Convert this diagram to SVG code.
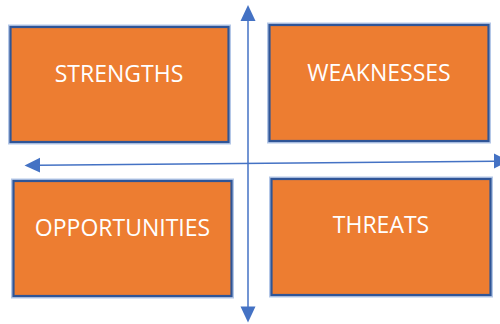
<svg xmlns="http://www.w3.org/2000/svg" width="500" height="324" viewBox="0 0 500 324">
<style>
.box{fill:#ED7D31;stroke:#2F5597;stroke-width:2.2}
.edge{fill:none;stroke:#B4C7E7;stroke-width:4}
.lbl{font-family:"Open Sans","Liberation Sans",sans-serif;font-size:23px;fill:#FFFFFF;text-anchor:middle}
.ax{stroke:#4472C4;stroke-width:1.5;fill:none}
.head{fill:#4472C4}
</style>
<rect width="500" height="324" fill="#FFFFFF"/>
<g id="strengths">
<rect class="edge" x="10" y="26.5" width="219" height="116"/>
<rect class="box" x="10.5" y="27" width="218" height="115"/>
<text class="lbl" x="119" y="82">STRENGTHS</text>
</g>
<g id="weaknesses">
<rect class="edge" x="269" y="24.5" width="220" height="117"/>
<rect class="box" x="269.5" y="25" width="219" height="116"/>
<text class="lbl" x="379" y="81">WEAKNESSES</text>
</g>
<g id="opportunities">
<rect class="edge" x="13" y="180.5" width="219" height="116"/>
<rect class="box" x="13.5" y="181" width="218" height="115"/>
<text class="lbl" x="122.5" y="235.5">OPPORTUNITIES</text>
</g>
<g id="threats">
<rect class="edge" x="271" y="178.5" width="220" height="117"/>
<rect class="box" x="271.5" y="179" width="219" height="116"/>
<text class="lbl" x="381" y="233">THREATS</text>
</g>
<g id="connectors">
<line class="ax" x1="248" y1="20" x2="248" y2="307"/>
<polygon class="head" points="248,5 240.5,21 255.5,21"/>
<polygon class="head" points="248,322.5 240.5,306.5 255.5,306.5"/>
<line class="ax" x1="39" y1="165.3" x2="495" y2="161.3"/>
<polygon class="head" points="24.5,165.5 40,157.8 40,172.6"/>
<polygon class="head" points="509,161 494,153.5 494,168.5"/>
</g>
</svg>
